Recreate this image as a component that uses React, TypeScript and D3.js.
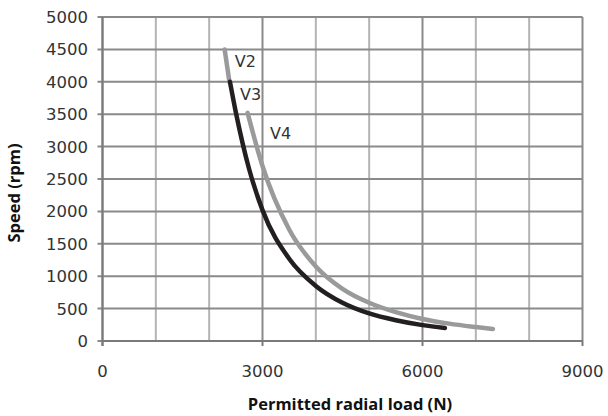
import React from "react";
import * as d3 from "d3";

const xTicks = [0, 3000, 6000, 9000];
const xGrid = [0, 1000, 2000, 3000, 4000, 5000, 6000, 7000, 8000, 9000];
const yTicks = [0, 500, 1000, 1500, 2000, 2500, 3000, 3500, 4000, 4500, 5000];

const v2Load = [2290, 2380];
const v2Speed = [4500, 4000];
const v3Load = [2390, 2500, 2750, 3000, 3500, 4000, 4500, 5000, 5500, 6000, 6420];
const v3Speed = [4000, 3530, 2650, 2020, 1270, 850, 590, 425, 320, 245, 200];
const v4Load = [2720, 3000, 3500, 4000, 4500, 5000, 5500, 6000, 6500, 7000, 7320];
const v4Speed = [3520, 2700, 1720, 1150, 805, 590, 445, 340, 268, 215, 185];

const seriesNames = ["V2", "V3", "V4"];
const labelLoad = [2480, 2580, 3140];
const labelSpeed = [4230, 3720, 3120];

export default function App() {
  const W = 608, H = 416;
  const x = d3.scaleLinear().domain([0, 9000]).range([102.5, 582.5]);
  const y = d3.scaleLinear().domain([0, 5000]).range([341, 17]);
  const line = d3
    .line<[number, number]>()
    .x((d) => x(d[0]))
    .y((d) => y(d[1]))
    .curve(d3.curveMonotoneX);
  const zip = (a: number[], b: number[]) => a.map((v, i) => [v, b[i]] as [number, number]);
  const font = "'DejaVu Sans', sans-serif";
  return (
    <svg width={W} height={H} style={{ position: "absolute", left: 0, top: 0, background: "#fff" }}>
      {xGrid.map((v) => (
        <line key={"vx" + v} x1={x(v)} x2={x(v)} y1={y(5000)} y2={y(0)}
          stroke={v % 3000 === 0 ? "#8a8a8a" : "#b4b4b4"} strokeWidth={2} />
      ))}
      {yTicks.map((v) => (
        <line key={"hy" + v} x1={x(0) - 5} x2={x(9000)} y1={y(v)} y2={y(v)}
          stroke="#8a8a8a" strokeWidth={2} />
      ))}
      <line x1={x(0)} x2={x(0)} y1={y(5000)} y2={y(0) + 5} stroke="#7a7a7a" strokeWidth={2} />
      <line x1={x(0)} x2={x(9000)} y1={y(0)} y2={y(0)} stroke="#7a7a7a" strokeWidth={2} />
      {xTicks.map((v) => (
        <line key={"tx" + v} x1={x(v)} x2={x(v)} y1={y(0)} y2={y(0) + 5} stroke="#7a7a7a" strokeWidth={2} />
      ))}
      {yTicks.map((v) => (
        <text key={"ly" + v} x={88} y={y(v)} dy="0.36em" textAnchor="end"
          fontFamily={font} fontSize={16.5} fill="#333">{v}</text>
      ))}
      {xTicks.map((v) => (
        <text key={"lx" + v} x={x(v)} y={377} textAnchor="middle"
          fontFamily={font} fontSize={16.5} fill="#333">{v}</text>
      ))}
      <path d={line(zip(v2Load, v2Speed)) || ""} fill="none" stroke="#9a9a9c" strokeWidth={4.5} strokeLinecap="round" />
      <path d={line(zip(v4Load, v4Speed)) || ""} fill="none" stroke="#9a9a9c" strokeWidth={4.5} strokeLinecap="round" />
      <path d={line(zip(v3Load, v3Speed)) || ""} fill="none" stroke="#231f20" strokeWidth={4.5} strokeLinecap="round" />
      {seriesNames.map((s, i) => (
        <text key={s} x={x(labelLoad[i])} y={y(labelSpeed[i])}
          fontFamily={font} fontSize={16} fill="#333">{s}</text>
      ))}
      <text x={350} y={410} textAnchor="middle" fontFamily="'Open Sans', sans-serif"
        fontWeight="bold" fontSize={16.5} fill="#111">Permitted radial load (N)</text>
      <text transform="translate(20,193) rotate(-90)" textAnchor="middle" fontFamily="'Open Sans', sans-serif"
        fontWeight="bold" fontSize={16.5} fill="#111">Speed (rpm)</text>
    </svg>
  );
}
